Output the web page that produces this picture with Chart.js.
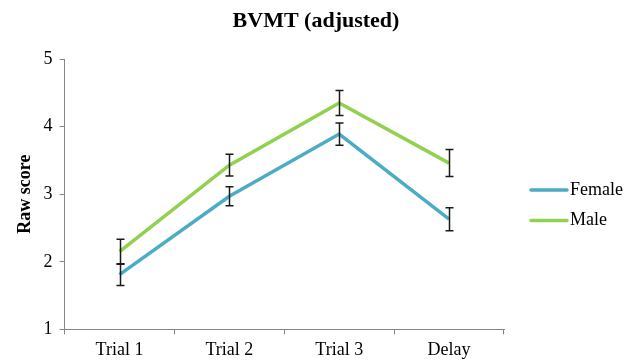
<!DOCTYPE html>
<html>
<head>
<meta charset="utf-8">
<script src="https://cdn.jsdelivr.net/npm/chart.js@4.4.1/dist/chart.umd.min.js"></script>
<style>
  html, body { margin: 0; padding: 0; background: #ffffff; }
  #wrap { width: 632px; height: 363px; position: relative; }
</style>
</head>
<body>
<div id="wrap"><canvas id="c" width="632" height="363"></canvas></div>
<script>
// BVMT raw scores by trial, with standard-error bars
const categories = ['Trial 1', 'Trial 2', 'Trial 3', 'Delay'];
const femaleMeans = [1.81, 2.97, 3.89, 2.63];
const femaleErr   = [0.16, 0.14, 0.165, 0.17];
const maleMeans   = [2.15, 3.43, 4.35, 3.46];
const maleErr     = [0.185, 0.16, 0.185, 0.20];
const yTicks = [1, 2, 3, 4, 5];
const chartTitle = 'BVMT (adjusted)';

const serif = "'Liberation Serif', 'Times New Roman', serif";

// Draws vertical error bars with caps for every line dataset
const errorBars = {
  id: 'errorBars',
  afterDatasetsDraw(chart) {
    const ctx = chart.ctx;
    const y = chart.scales.y;
    ctx.save();
    ctx.strokeStyle = '#1a1a1a';
    ctx.lineWidth = 1.5;
    chart.data.datasets.forEach((ds, i) => {
      const meta = chart.getDatasetMeta(i);
      meta.data.forEach((pt, j) => {
        const v = ds.data[j], e = ds.errors[j];
        const x = Math.round(pt.x) + 0.5;
        const yt = y.getPixelForValue(v + e);
        const yb = y.getPixelForValue(v - e);
        ctx.beginPath();
        ctx.moveTo(x, yt); ctx.lineTo(x, yb);
        ctx.moveTo(x - 4, yt); ctx.lineTo(x + 4, yt);
        ctx.moveTo(x - 4, yb); ctx.lineTo(x + 4, yb);
        ctx.stroke();
      });
    });
    ctx.restore();
  }
};

// Title centred on the whole canvas, legend to the right of the plot area
const decorations = {
  id: 'decorations',
  afterDraw(chart) {
    const ctx = chart.ctx;
    const area = chart.chartArea;
    ctx.save();
    ctx.fillStyle = '#000000';
    ctx.font = 'bold 22px ' + serif;
    ctx.textAlign = 'center';
    ctx.textBaseline = 'alphabetic';
    ctx.fillText(chartTitle, chart.width / 2, 27);

    const x0 = area.right + 26;
    ctx.font = '18px ' + serif;
    ctx.textAlign = 'left';
    ctx.textBaseline = 'middle';
    ctx.lineCap = 'round';
    chart.data.datasets.forEach((ds, i) => {
      const yy = 190 + i * 30.5;
      ctx.strokeStyle = ds.borderColor;
      ctx.lineWidth = 3.5;
      ctx.beginPath();
      ctx.moveTo(x0 + 1, yy); ctx.lineTo(x0 + 37, yy);
      ctx.stroke();
      ctx.fillStyle = '#000000';
      ctx.fillText(ds.label, x0 + 40, yy);
    });
    ctx.restore();
  }
};

new Chart(document.getElementById('c'), {
  type: 'line',
  data: {
    labels: categories,
    datasets: [
      { label: 'Female', data: femaleMeans, errors: femaleErr, borderColor: '#4BACC6',
        borderWidth: 3.5, pointRadius: 0, tension: 0, fill: false },
      { label: 'Male', data: maleMeans, errors: maleErr, borderColor: '#92D050',
        borderWidth: 3.5, pointRadius: 0, tension: 0, fill: false }
    ]
  },
  options: {
    responsive: false,
    animation: false,
    devicePixelRatio: 1,
    layout: { padding: { left: 15, right: 128, top: 59, bottom: -3 } },
    plugins: {
      legend: { display: false },
      tooltip: { enabled: false },
      title: { display: false }
    },
    scales: {
      x: {
        offset: true,
        grid: { display: true, drawOnChartArea: false, drawTicks: true, tickLength: 5,
                color: '#868686', offset: true },
        border: { display: true, color: '#868686', width: 1 },
        ticks: { color: '#000000', font: { family: serif, size: 18 }, padding: 5 }
      },
      y: {
        min: 1, max: 5,
        afterBuildTicks(axis) { axis.ticks = yTicks.map(v => ({ value: v })); },
        grid: { display: true, drawOnChartArea: false, drawTicks: true, tickLength: 5,
                color: '#868686' },
        border: { display: true, color: '#868686', width: 1 },
        ticks: { color: '#000000', font: { family: serif, size: 18 }, padding: 7 },
        title: {
          display: true, text: 'Raw score', color: '#000000',
          font: { family: serif, size: 18, weight: 'bold' }, padding: { top: 0, bottom: 0 }
        }
      }
    }
  },
  plugins: [errorBars, decorations]
});
</script>
</body>
</html>
